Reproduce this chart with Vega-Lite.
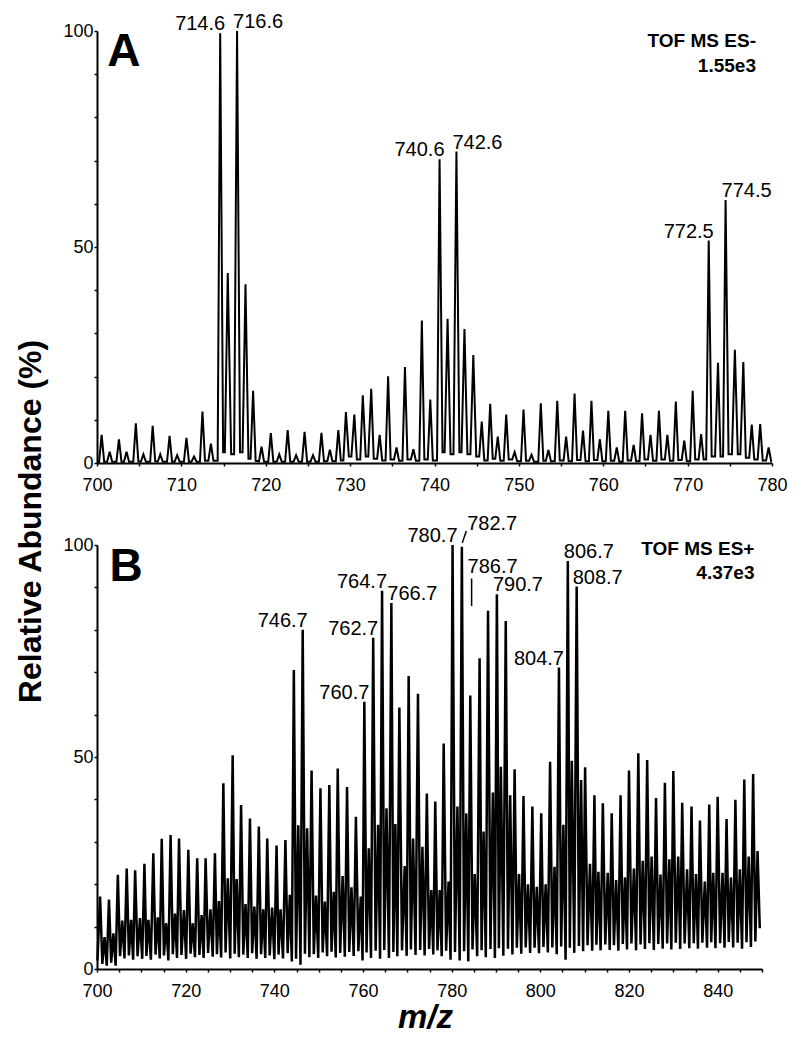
{
  "$schema": "https://vega.github.io/schema/vega-lite/v6.json",
  "background": "white",
  "padding": {"left": 14, "top": 12, "right": 5, "bottom": 5},
  "bounds": "flush",
  "spacing": 82,
  "config": {
    "view": {"stroke": null},
    "font": "Liberation Sans",
    "axis": {
      "domainColor": "black", "domainWidth": 2, "tickColor": "black", "tickWidth": 1.5, "tickSize": 3,
      "labelFont": "Liberation Sans", "labelFontSize": 18, "labelColor": "black", "grid": false,
      "labelFlush": false, "labelOverlap": false, "titleColor": "black", "titleFont": "Liberation Sans"
    },
    "axisX": {"labelPadding": 10},
    "axisY": {"labelPadding": 1}
  },
  "datasets": {
    "specA": [
      {"mz":700.0,"I":0.3},
      {"mz":700.25,"I":0.3},{"mz":700.55,"I":6.5},{"mz":700.85,"I":0.3},
      {"mz":701.2,"I":0.3},{"mz":701.5,"I":2.6},{"mz":701.8,"I":0.3},
      {"mz":702.3,"I":0.3},{"mz":702.6,"I":5.5},{"mz":702.9,"I":0.3},
      {"mz":703.2,"I":0.3},{"mz":703.5,"I":2.6},{"mz":703.8,"I":0.3},
      {"mz":704.3,"I":0.3},{"mz":704.6,"I":9.2},{"mz":704.9,"I":0.4},
      {"mz":705.2,"I":0.3},{"mz":705.5,"I":2.0},{"mz":705.8,"I":0.3},
      {"mz":706.3,"I":0.3},{"mz":706.6,"I":8.6},{"mz":706.9,"I":0.4},
      {"mz":707.2,"I":0.3},{"mz":707.5,"I":2.0},{"mz":707.8,"I":0.3},
      {"mz":708.3,"I":0.3},{"mz":708.6,"I":6.3},{"mz":708.9,"I":0.3},
      {"mz":709.2,"I":0.3},{"mz":709.5,"I":1.8},{"mz":709.8,"I":0.3},
      {"mz":710.3,"I":0.3},{"mz":710.6,"I":5.8},{"mz":710.9,"I":0.3},
      {"mz":711.2,"I":0.3},{"mz":711.5,"I":1.5},{"mz":711.8,"I":0.3},
      {"mz":712.2,"I":0.3},{"mz":712.5,"I":11.9},{"mz":712.8,"I":0.5},
      {"mz":713.2,"I":0.5},{"mz":713.5,"I":4.5},{"mz":713.8,"I":0.5},
      {"mz":714.3,"I":0.5},{"mz":714.6,"I":99.5},{"mz":714.95,"I":2.5},
      {"mz":715.15,"I":2.5},{"mz":715.5,"I":44.0},{"mz":715.9,"I":2.0},
      {"mz":716.25,"I":2.0},{"mz":716.6,"I":100},{"mz":716.95,"I":2.5},
      {"mz":717.25,"I":2.5},{"mz":717.6,"I":41.4},{"mz":717.95,"I":1.0},
      {"mz":718.2,"I":1.0},{"mz":718.5,"I":16.7},{"mz":718.8,"I":0.5},
      {"mz":719.2,"I":0.4},{"mz":719.5,"I":3.8},{"mz":719.8,"I":0.3},
      {"mz":720.3,"I":0.3},{"mz":720.6,"I":6.9},{"mz":720.9,"I":0.3},
      {"mz":721.3,"I":0.3},{"mz":721.6,"I":2.0},{"mz":721.9,"I":0.3},
      {"mz":722.3,"I":0.3},{"mz":722.6,"I":7.6},{"mz":722.9,"I":0.3},
      {"mz":723.3,"I":0.3},{"mz":723.6,"I":1.8},{"mz":723.9,"I":0.3},
      {"mz":724.3,"I":0.3},{"mz":724.6,"I":7.2},{"mz":724.9,"I":0.3},
      {"mz":725.3,"I":0.3},{"mz":725.6,"I":1.8},{"mz":725.9,"I":0.3},
      {"mz":726.3,"I":0.3},{"mz":726.6,"I":7.0},{"mz":726.9,"I":0.4},
      {"mz":727.3,"I":0.4},{"mz":727.6,"I":3.1},{"mz":727.9,"I":0.4},
      {"mz":728.3,"I":0.4},{"mz":728.6,"I":7.6},{"mz":728.9,"I":0.6},
      {"mz":729.2,"I":0.6},{"mz":729.5,"I":11.8},{"mz":729.85,"I":1.5},
      {"mz":730.15,"I":1.5},{"mz":730.5,"I":11.2},{"mz":730.8,"I":0.8},
      {"mz":731.2,"I":0.8},{"mz":731.5,"I":15.7},{"mz":731.85,"I":1.5},
      {"mz":732.15,"I":1.5},{"mz":732.5,"I":17.2},{"mz":732.8,"I":1.0},
      {"mz":733.2,"I":1.0},{"mz":733.5,"I":6.5},{"mz":733.8,"I":0.6},
      {"mz":734.2,"I":0.6},{"mz":734.5,"I":20.1},{"mz":734.8,"I":0.8},
      {"mz":735.2,"I":0.8},{"mz":735.5,"I":3.6},{"mz":735.8,"I":0.5},
      {"mz":736.2,"I":0.5},{"mz":736.5,"I":22.2},{"mz":736.8,"I":0.8},
      {"mz":737.2,"I":0.8},{"mz":737.5,"I":3.2},{"mz":737.8,"I":0.5},
      {"mz":738.2,"I":0.5},{"mz":738.5,"I":33.0},{"mz":738.8,"I":0.8},
      {"mz":739.2,"I":0.8},{"mz":739.5,"I":14.7},{"mz":739.8,"I":0.6},
      {"mz":740.3,"I":0.6},{"mz":740.6,"I":70.3},{"mz":740.95,"I":2.5},
      {"mz":741.2,"I":2.5},{"mz":741.55,"I":33.4},{"mz":741.9,"I":2.0},
      {"mz":742.25,"I":2.0},{"mz":742.6,"I":72.1},{"mz":742.95,"I":2.5},
      {"mz":743.2,"I":2.5},{"mz":743.55,"I":31.0},{"mz":743.9,"I":2.0},
      {"mz":744.25,"I":2.0},{"mz":744.6,"I":25.0},{"mz":744.95,"I":1.5},
      {"mz":745.3,"I":1.5},{"mz":745.6,"I":9.6},{"mz":745.9,"I":0.6},
      {"mz":746.3,"I":0.6},{"mz":746.6,"I":13.7},{"mz":746.9,"I":1.0},
      {"mz":747.2,"I":1.0},{"mz":747.5,"I":6.1},{"mz":747.8,"I":0.5},
      {"mz":748.2,"I":0.5},{"mz":748.5,"I":11.2},{"mz":748.8,"I":0.8},
      {"mz":749.2,"I":0.8},{"mz":749.5,"I":2.5},{"mz":749.8,"I":0.4},
      {"mz":750.25,"I":0.4},{"mz":750.55,"I":12.4},{"mz":750.85,"I":0.5},
      {"mz":751.2,"I":0.5},{"mz":751.5,"I":1.9},{"mz":751.8,"I":0.3},
      {"mz":752.3,"I":0.3},{"mz":752.6,"I":13.8},{"mz":752.9,"I":0.5},
      {"mz":753.2,"I":0.5},{"mz":753.5,"I":3.0},{"mz":753.8,"I":0.4},
      {"mz":754.25,"I":0.4},{"mz":754.55,"I":14.4},{"mz":754.85,"I":0.6},
      {"mz":755.3,"I":0.6},{"mz":755.6,"I":6.1},{"mz":755.9,"I":0.4},
      {"mz":756.3,"I":0.4},{"mz":756.6,"I":16.1},{"mz":756.9,"I":0.7},
      {"mz":757.3,"I":0.7},{"mz":757.6,"I":7.5},{"mz":757.9,"I":0.4},
      {"mz":758.3,"I":0.4},{"mz":758.6,"I":14.4},{"mz":758.9,"I":0.7},
      {"mz":759.3,"I":0.7},{"mz":759.6,"I":5.5},{"mz":759.9,"I":0.4},
      {"mz":760.3,"I":0.4},{"mz":760.6,"I":12.1},{"mz":760.9,"I":0.5},
      {"mz":761.3,"I":0.5},{"mz":761.6,"I":3.6},{"mz":761.9,"I":0.3},
      {"mz":762.3,"I":0.3},{"mz":762.6,"I":12.1},{"mz":762.9,"I":0.6},
      {"mz":763.3,"I":0.6},{"mz":763.6,"I":4.2},{"mz":763.9,"I":0.4},
      {"mz":764.3,"I":0.4},{"mz":764.6,"I":11.5},{"mz":764.9,"I":0.8},
      {"mz":765.3,"I":0.8},{"mz":765.6,"I":6.5},{"mz":765.9,"I":0.5},
      {"mz":766.3,"I":0.5},{"mz":766.6,"I":12.1},{"mz":766.9,"I":0.8},
      {"mz":767.3,"I":0.8},{"mz":767.6,"I":6.5},{"mz":767.9,"I":0.5},
      {"mz":768.3,"I":0.5},{"mz":768.6,"I":14.2},{"mz":768.9,"I":0.7},
      {"mz":769.3,"I":0.7},{"mz":769.6,"I":5.2},{"mz":769.9,"I":0.4},
      {"mz":770.3,"I":0.4},{"mz":770.6,"I":16.7},{"mz":770.9,"I":0.8},
      {"mz":771.3,"I":0.8},{"mz":771.6,"I":6.7},{"mz":771.9,"I":0.8},
      {"mz":772.2,"I":0.8},{"mz":772.5,"I":51.5},{"mz":772.85,"I":1.5},
      {"mz":773.25,"I":1.5},{"mz":773.6,"I":23.2},{"mz":773.9,"I":1.5},
      {"mz":774.2,"I":1.5},{"mz":774.5,"I":60.9},{"mz":774.85,"I":2.0},
      {"mz":775.25,"I":2.0},{"mz":775.6,"I":26.2},{"mz":775.95,"I":2.0},
      {"mz":776.25,"I":2.0},{"mz":776.6,"I":23.4},{"mz":776.9,"I":1.2},
      {"mz":777.3,"I":1.2},{"mz":777.6,"I":8.9},{"mz":777.9,"I":0.8},
      {"mz":778.3,"I":0.8},{"mz":778.6,"I":9.0},{"mz":778.9,"I":0.6},
      {"mz":779.3,"I":0.6},{"mz":779.6,"I":3.6},{"mz":779.9,"I":0.4},
      {"mz":780.0,"I":0.4}
    ],
    "specB": [
      {"mz":700.1,"I":2.0},{"mz":700.7,"I":17.1},{"mz":701.2,"I":1.2},{"mz":701.7,"I":7.5},{"mz":702.2,"I":0.8},{"mz":702.7,"I":16.4},{"mz":703.2,"I":1.5},{"mz":703.7,"I":8.4},{"mz":704.2,"I":0.8},{"mz":704.7,"I":22.2},{"mz":705.2,"I":3.0},{"mz":705.7,"I":11.4},{"mz":706.2,"I":2.5},{"mz":706.7,"I":23.7},{"mz":707.2,"I":3.2},{"mz":707.7,"I":11.6},{"mz":708.15,"I":2.2},{"mz":708.6,"I":23.3},{"mz":709.15,"I":3.0},{"mz":709.7,"I":12.0},{"mz":710.2,"I":2.4},{"mz":710.7,"I":24.8},{"mz":711.15,"I":3.1},{"mz":711.6,"I":11.6},{"mz":712.15,"I":2.2},{"mz":712.7,"I":27.3},{"mz":713.2,"I":3.4},{"mz":713.7,"I":12.2},{"mz":714.15,"I":2.5},{"mz":714.6,"I":30.7},{"mz":715.1,"I":3.2},{"mz":715.6,"I":10.8},{"mz":716.1,"I":2.0},{"mz":716.6,"I":31.6},{"mz":717.1,"I":3.5},{"mz":717.6,"I":13.1},{"mz":718.05,"I":2.6},{"mz":718.5,"I":30.8},{"mz":719.05,"I":3.3},{"mz":719.6,"I":13.9},{"mz":720.1,"I":2.4},{"mz":720.6,"I":28.1},{"mz":721.1,"I":3.6},{"mz":721.6,"I":10.8},{"mz":722.1,"I":2.8},{"mz":722.6,"I":26.1},{"mz":723.1,"I":3.3},{"mz":723.6,"I":12.7},{"mz":724.05,"I":2.6},{"mz":724.5,"I":26.1},{"mz":725.05,"I":3.8},{"mz":725.6,"I":14.1},{"mz":726.1,"I":2.9},{"mz":726.6,"I":27.3},{"mz":727.05,"I":3.5},{"mz":727.5,"I":16.0},{"mz":728.0,"I":2.7},{"mz":728.5,"I":43.8},{"mz":729.0,"I":3.9},{"mz":729.5,"I":21.4},{"mz":730.05,"I":2.5},{"mz":730.6,"I":50.4},{"mz":731.05,"I":3.6},{"mz":731.5,"I":21.2},{"mz":732.0,"I":2.8},{"mz":732.5,"I":38.7},{"mz":733.0,"I":3.4},{"mz":733.5,"I":15.3},{"mz":734.0,"I":2.6},{"mz":734.5,"I":35.5},{"mz":735.0,"I":3.7},{"mz":735.5,"I":14.7},{"mz":736.0,"I":2.4},{"mz":736.5,"I":33.6},{"mz":737.0,"I":3.5},{"mz":737.5,"I":14.1},{"mz":737.95,"I":2.6},{"mz":738.4,"I":30.8},{"mz":738.95,"I":3.2},{"mz":739.5,"I":14.5},{"mz":740.0,"I":2.3},{"mz":740.5,"I":29.1},{"mz":740.95,"I":3.4},{"mz":741.4,"I":14.1},{"mz":741.95,"I":2.5},{"mz":742.5,"I":30.4},{"mz":743.0,"I":3.7},{"mz":743.5,"I":17.5},{"mz":743.95,"I":1.8},{"mz":744.4,"I":70.5},{"mz":744.9,"I":2.4},{"mz":745.4,"I":33.9},{"mz":745.9,"I":1.0},{"mz":746.4,"I":80.0},{"mz":746.9,"I":3.6},{"mz":747.4,"I":33.2},{"mz":747.9,"I":2.8},{"mz":748.4,"I":46.8},{"mz":748.9,"I":3.5},{"mz":749.4,"I":17.3},{"mz":749.9,"I":2.6},{"mz":750.4,"I":42.6},{"mz":750.9,"I":3.9},{"mz":751.4,"I":15.9},{"mz":751.9,"I":3.0},{"mz":752.4,"I":43.4},{"mz":752.9,"I":4.1},{"mz":753.4,"I":18.2},{"mz":753.85,"I":2.7},{"mz":754.3,"I":47.3},{"mz":754.85,"I":3.8},{"mz":755.4,"I":21.9},{"mz":755.9,"I":2.9},{"mz":756.4,"I":42.9},{"mz":756.9,"I":4.0},{"mz":757.4,"I":19.3},{"mz":757.9,"I":3.1},{"mz":758.4,"I":35.9},{"mz":758.95,"I":4.2},{"mz":759.5,"I":17.1},{"mz":759.9,"I":2.0},{"mz":760.3,"I":63.0},{"mz":760.8,"I":3.9},{"mz":761.3,"I":28.5},{"mz":761.8,"I":2.6},{"mz":762.3,"I":78.1},{"mz":762.85,"I":4.3},{"mz":763.4,"I":34.0},{"mz":763.85,"I":2.4},{"mz":764.3,"I":89.2},{"mz":764.8,"I":4.5},{"mz":765.3,"I":37.9},{"mz":765.85,"I":2.6},{"mz":766.4,"I":86.3},{"mz":766.85,"I":4.0},{"mz":767.3,"I":34.2},{"mz":767.75,"I":3.0},{"mz":768.2,"I":61.7},{"mz":768.8,"I":4.4},{"mz":769.4,"I":24.3},{"mz":769.85,"I":3.1},{"mz":770.3,"I":69.1},{"mz":770.8,"I":4.6},{"mz":771.3,"I":30.8},{"mz":771.85,"I":3.3},{"mz":772.4,"I":64.9},{"mz":772.9,"I":4.5},{"mz":773.4,"I":28.8},{"mz":773.9,"I":3.2},{"mz":774.4,"I":41.4},{"mz":774.9,"I":4.7},{"mz":775.4,"I":18.6},{"mz":775.85,"I":3.4},{"mz":776.3,"I":39.5},{"mz":776.8,"I":4.4},{"mz":777.3,"I":18.6},{"mz":777.75,"I":3.0},{"mz":778.2,"I":53.2},{"mz":778.75,"I":4.3},{"mz":779.3,"I":20.6},{"mz":779.75,"I":2.2},{"mz":780.2,"I":100},{"mz":780.75,"I":4.0},{"mz":781.3,"I":38.3},{"mz":781.8,"I":2.0},{"mz":782.3,"I":99.6},{"mz":782.8,"I":4.2},{"mz":783.3,"I":36.7},{"mz":783.75,"I":1.8},{"mz":784.2,"I":64.5},{"mz":784.7,"I":4.6},{"mz":785.2,"I":22.4},{"mz":785.75,"I":3.0},{"mz":786.3,"I":73.3},{"mz":786.75,"I":4.4},{"mz":787.2,"I":32.4},{"mz":787.7,"I":2.8},{"mz":788.2,"I":84.5},{"mz":788.75,"I":4.7},{"mz":789.3,"I":41.6},{"mz":789.75,"I":2.6},{"mz":790.2,"I":88.4},{"mz":790.65,"I":4.9},{"mz":791.1,"I":47.7},{"mz":791.65,"I":3.1},{"mz":792.2,"I":82.1},{"mz":792.7,"I":4.8},{"mz":793.2,"I":41.0},{"mz":793.7,"I":3.4},{"mz":794.2,"I":47.1},{"mz":794.7,"I":5.0},{"mz":795.2,"I":22.4},{"mz":795.7,"I":3.6},{"mz":796.2,"I":40.8},{"mz":796.7,"I":5.1},{"mz":797.2,"I":20.0},{"mz":797.7,"I":3.8},{"mz":798.2,"I":38.3},{"mz":798.7,"I":5.0},{"mz":799.2,"I":19.4},{"mz":799.7,"I":3.7},{"mz":800.2,"I":36.7},{"mz":800.7,"I":5.2},{"mz":801.2,"I":20.0},{"mz":801.7,"I":3.9},{"mz":802.2,"I":48.9},{"mz":802.7,"I":5.1},{"mz":803.2,"I":24.1},{"mz":803.7,"I":3.5},{"mz":804.2,"I":71.1},{"mz":804.7,"I":5.3},{"mz":805.2,"I":34.0},{"mz":805.7,"I":2.2},{"mz":806.2,"I":96.2},{"mz":806.65,"I":5.0},{"mz":807.1,"I":49.1},{"mz":807.65,"I":3.8},{"mz":808.2,"I":90.2},{"mz":808.7,"I":5.4},{"mz":809.2,"I":44.6},{"mz":809.65,"I":4.2},{"mz":810.1,"I":47.6},{"mz":810.65,"I":5.6},{"mz":811.2,"I":24.8},{"mz":811.7,"I":4.3},{"mz":812.2,"I":41.0},{"mz":812.65,"I":5.7},{"mz":813.1,"I":22.9},{"mz":813.6,"I":4.4},{"mz":814.1,"I":39.1},{"mz":814.65,"I":5.8},{"mz":815.2,"I":22.7},{"mz":815.65,"I":4.5},{"mz":816.1,"I":36.7},{"mz":816.6,"I":5.6},{"mz":817.1,"I":21.0},{"mz":817.6,"I":4.3},{"mz":818.1,"I":41.0},{"mz":818.6,"I":5.9},{"mz":819.1,"I":21.6},{"mz":819.55,"I":4.6},{"mz":820.0,"I":46.8},{"mz":820.55,"I":6.0},{"mz":821.1,"I":23.7},{"mz":821.6,"I":4.4},{"mz":822.1,"I":50.9},{"mz":822.6,"I":5.8},{"mz":823.1,"I":25.5},{"mz":823.6,"I":4.7},{"mz":824.1,"I":49.3},{"mz":824.6,"I":6.1},{"mz":825.1,"I":26.5},{"mz":825.6,"I":4.5},{"mz":826.1,"I":40.3},{"mz":826.6,"I":5.9},{"mz":827.1,"I":22.3},{"mz":827.6,"I":4.8},{"mz":828.1,"I":43.9},{"mz":828.6,"I":6.0},{"mz":829.1,"I":25.9},{"mz":829.55,"I":4.6},{"mz":830.0,"I":46.7},{"mz":830.55,"I":6.2},{"mz":831.1,"I":26.5},{"mz":831.55,"I":4.7},{"mz":832.0,"I":39.2},{"mz":832.55,"I":6.0},{"mz":833.1,"I":23.5},{"mz":833.6,"I":4.9},{"mz":834.1,"I":38.3},{"mz":834.6,"I":6.1},{"mz":835.1,"I":22.4},{"mz":835.55,"I":4.8},{"mz":836.0,"I":35.0},{"mz":836.55,"I":6.2},{"mz":837.1,"I":20.6},{"mz":837.6,"I":5.0},{"mz":838.1,"I":38.8},{"mz":838.55,"I":6.3},{"mz":839.0,"I":22.7},{"mz":839.5,"I":4.9},{"mz":840.0,"I":40.6},{"mz":840.55,"I":6.1},{"mz":841.1,"I":22.7},{"mz":841.55,"I":5.0},{"mz":842.0,"I":35.4},{"mz":842.5,"I":6.4},{"mz":843.0,"I":21.6},{"mz":843.5,"I":5.1},{"mz":844.0,"I":39.9},{"mz":844.5,"I":6.2},{"mz":845.0,"I":23.5},{"mz":845.5,"I":4.8},{"mz":846.0,"I":44.7},{"mz":846.5,"I":6.3},{"mz":847.0,"I":26.5},{"mz":847.5,"I":5.2},{"mz":848.0,"I":46.0},{"mz":848.5,"I":6.5},{"mz":849.0,"I":27.8},{"mz":849.5,"I":9.6}
    ],
    "labA_r": [
      {"mz":714.6,"I":99.5,"label":"714.6"},{"mz":740.6,"I":70.3,"label":"740.6"},{"mz":772.5,"I":51.5,"label":"772.5"}
    ],
    "labA_l": [
      {"mz":716.6,"I":100,"label":"716.6"},{"mz":742.6,"I":72.1,"label":"742.6"},{"mz":774.5,"I":60.9,"label":"774.5"}
    ],
    "labB_r": [
      {"mz":746.4,"I":80.0,"label":"746.7"},{"mz":760.3,"I":63.0,"label":"760.7"},{"mz":762.3,"I":78.1,"label":"762.7"},{"mz":764.3,"I":89.2,"label":"764.7"},{"mz":780.2,"I":100,"label":"780.7"},{"mz":804.2,"I":71.1,"label":"804.7"}
    ],
    "labB_l": [
      {"mz":766.4,"I":86.3,"label":"766.7"},{"mz":784.4,"I":102.9,"label":"782.7"},{"mz":784.5,"I":92.7,"label":"786.7"},{"mz":790.2,"I":88.4,"label":"790.7"},{"mz":806.2,"I":96.2,"label":"806.7"},{"mz":808.2,"I":90.2,"label":"808.7"}
    ],
    "leadersB": [
      {"mz":782.4,"I":100.5,"mz2":783.3,"I2":103.3},
      {"mz":784.5,"I":92.1,"mz2":784.5,"I2":85.6}
    ],
    "panelA": [{"mz":701.2,"I":91.9,"label":"A"}],
    "infoA": [{"mz":778.1,"I":96.3,"label":"TOF MS ES-"},{"mz":778.1,"I":90.6,"label":"1.55e3"}],
    "panelB": [{"mz":702.8,"I":91.5,"label":"B"}],
    "infoB": [{"mz":848.3,"I":97.6,"label":"TOF MS ES+"},{"mz":848.3,"I":91.9,"label":"4.37e3"}]
  },
  "vconcat": [
    {
      "width": 675,
      "height": 432,
      "encoding": {
        "x": {"field": "mz", "type": "quantitative", "scale": {"domain": [700, 780], "nice": false, "zero": false},
          "axis": {"values": [700,705,710,715,720,725,730,735,740,745,750,755,760,765,770,775,780], "labelExpr": "datum.value % 10 === 0 ? datum.label : ''", "title": null}},
        "y": {"field": "I", "type": "quantitative", "scale": {"domain": [0, 100], "nice": false},
          "axis": {"values": [0,10,20,30,40,50,60,70,80,90,100], "labelExpr": "datum.value % 50 === 0 ? datum.label : ''",
            "title": "Relative Abundance (%)", "titleFontSize": 32, "titleFontWeight": "bold", "titleAngle": -90,
            "titleX": -67, "titleY": 490, "titleAlign": "center", "titleBaseline": "middle"}}
      },
      "layer": [
        {"data": {"name": "specA"}, "mark": {"type": "line", "color": "black", "strokeWidth": 2}, "encoding": {}},
        {"data": {"name": "labA_r"}, "mark": {"type": "text", "align": "right", "baseline": "alphabetic", "dx": 5, "dy": -3, "fontSize": 20, "color": "black"}, "encoding": {"text": {"field": "label"}}},
        {"data": {"name": "labA_l"}, "mark": {"type": "text", "align": "left", "baseline": "alphabetic", "dx": -4, "dy": -3, "fontSize": 20, "color": "black"}, "encoding": {"text": {"field": "label"}}},
        {"data": {"name": "panelA"}, "mark": {"type": "text", "align": "left", "baseline": "alphabetic", "fontSize": 46, "fontWeight": "bold", "color": "black"}, "encoding": {"text": {"field": "label"}}},
        {"data": {"name": "infoA"}, "mark": {"type": "text", "align": "right", "baseline": "alphabetic", "fontSize": 19, "fontWeight": "bold", "color": "black"}, "encoding": {"text": {"field": "label"}}}
      ]
    },
    {
      "width": 665,
      "height": 424,
      "encoding": {
        "x": {"field": "mz", "type": "quantitative", "scale": {"domain": [700, 850], "nice": false, "zero": false},
          "axis": {"values": [700,705,710,715,720,725,730,735,740,745,750,755,760,765,770,775,780,785,790,795,800,805,810,815,820,825,830,835,840,845,850], "labelExpr": "datum.value % 20 === 0 ? datum.label : ''",
            "title": "m/z", "titleFontSize": 33, "titleFontWeight": "bold", "titleFontStyle": "italic",
            "titleX": 328, "titleY": 48, "titleAlign": "center", "titleBaseline": "middle"}},
        "y": {"field": "I", "type": "quantitative", "scale": {"domain": [0, 100], "nice": false},
          "axis": {"values": [0,10,20,30,40,50,60,70,80,90,100], "labelExpr": "datum.value % 50 === 0 ? datum.label : ''", "title": null}}
      },
      "layer": [
        {"data": {"name": "specB"}, "mark": {"type": "line", "color": "black", "strokeWidth": 2.5}, "encoding": {}},
        {"data": {"name": "labB_r"}, "mark": {"type": "text", "align": "right", "baseline": "alphabetic", "dx": 5, "dy": -3, "fontSize": 20, "color": "black"}, "encoding": {"text": {"field": "label"}}},
        {"data": {"name": "labB_l"}, "mark": {"type": "text", "align": "left", "baseline": "alphabetic", "dx": -4, "dy": -3, "fontSize": 20, "color": "black"}, "encoding": {"text": {"field": "label"}}},
        {"data": {"name": "leadersB"}, "mark": {"type": "rule", "color": "black", "strokeWidth": 1.5}, "encoding": {"x2": {"field": "mz2"}, "y2": {"field": "I2"}}},
        {"data": {"name": "panelB"}, "mark": {"type": "text", "align": "left", "baseline": "alphabetic", "fontSize": 46, "fontWeight": "bold", "color": "black"}, "encoding": {"text": {"field": "label"}}},
        {"data": {"name": "infoB"}, "mark": {"type": "text", "align": "right", "baseline": "alphabetic", "fontSize": 19, "fontWeight": "bold", "color": "black"}, "encoding": {"text": {"field": "label"}}}
      ]
    }
  ]
}
